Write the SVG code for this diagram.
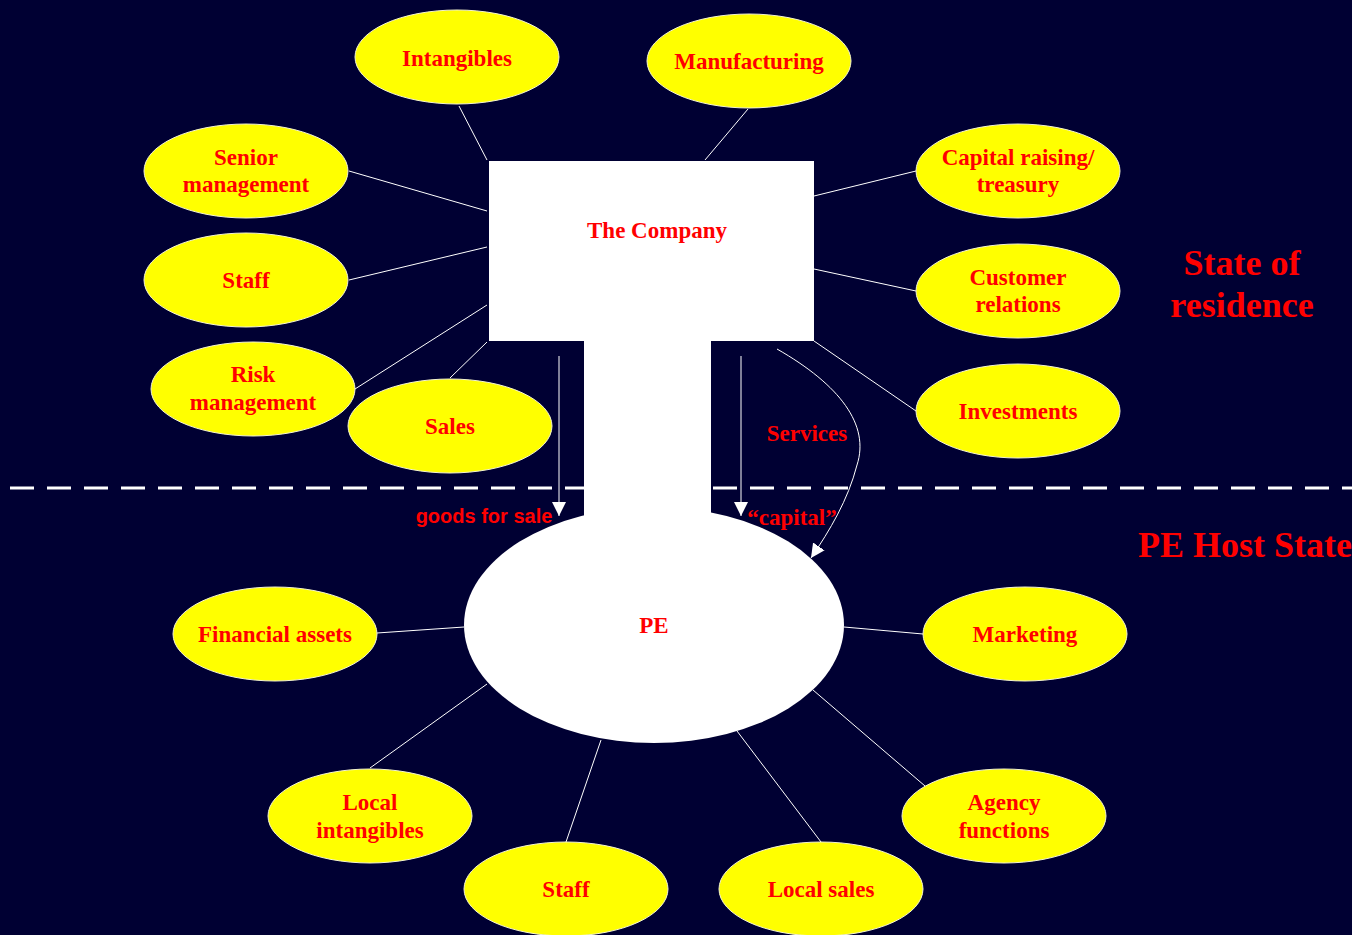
<svg xmlns="http://www.w3.org/2000/svg" width="1352" height="935" viewBox="0 0 1352 935">
<defs>
<style>
.bub{fill:#FFFF00;stroke:#f4f4d0;stroke-width:1}
.t{font-family:"Liberation Serif","Times New Roman",serif;font-weight:bold;font-size:23px;fill:#FF0000;text-anchor:middle}
.big{font-family:"Liberation Serif","Times New Roman",serif;font-weight:bold;font-size:36px;fill:#FF0000;text-anchor:middle}
.conn line,.conn path{stroke:#ffffff;stroke-width:1;fill:none}
.main{fill:#ffffff}
</style>
<marker id="ah" viewBox="0 0 10 10" refX="10" refY="5" markerWidth="14" markerHeight="14" markerUnits="userSpaceOnUse" orient="auto">
<path d="M0,0 L10,5 L0,10 z" fill="#ffffff"/>
</marker>
</defs>
<rect width="1352" height="935" fill="#000033"/>
<line x1="10" y1="488" x2="1352" y2="488" stroke="#ffffff" stroke-width="3" stroke-dasharray="24 13"/>
<g class="conn">
<line x1="459" y1="106" x2="487" y2="160"/>
<line x1="748" y1="109" x2="705" y2="160"/>
<line x1="349" y1="171" x2="487" y2="211"/>
<line x1="349" y1="280" x2="487" y2="247"/>
<line x1="355" y1="389" x2="487" y2="305"/>
<line x1="450" y1="378" x2="487" y2="342"/>
<line x1="916" y1="171" x2="814" y2="196"/>
<line x1="916" y1="291" x2="814" y2="269"/>
<line x1="916" y1="411" x2="814" y2="341"/>
<line x1="377" y1="633" x2="464" y2="627"/>
<line x1="923" y1="634" x2="844" y2="627"/>
<line x1="370" y1="768" x2="487" y2="684"/>
<line x1="925" y1="786" x2="813" y2="690"/>
<line x1="566" y1="842" x2="601" y2="740"/>
<line x1="821" y1="842" x2="737" y2="731"/>
</g>
<g id="company">
<rect class="main" x="489" y="161" width="325" height="180"/>
<rect class="main" x="584" y="340" width="127" height="220"/>
<text class="t" x="657" y="238">The Company</text>
</g>
<g id="pe">
<ellipse class="main" cx="654" cy="625" rx="190" ry="118"/>
<text class="t" x="654" y="633">PE</text>
</g>
<g class="conn" id="flows">
<line x1="559" y1="356" x2="559" y2="516" marker-end="url(#ah)"/>
<line x1="741" y1="356" x2="741" y2="516" marker-end="url(#ah)"/>
<path d="M777,349 C840,385 870,425 857,465 C848,500 830,530 811,558" marker-end="url(#ah)"/>
</g>
<text x="484" y="523" font-family="'Liberation Sans',Arial,sans-serif" font-weight="bold" font-size="20" fill="#FF0000" text-anchor="middle">goods for sale</text>
<text class="t" x="792" y="525">“capital”</text>
<text class="t" x="807" y="441">Services</text>
<g id="n-intangibles"><ellipse class="bub" cx="457" cy="57" rx="102" ry="47"/><text class="t" x="457" y="66">Intangibles</text></g>
<g id="n-manufacturing"><ellipse class="bub" cx="749" cy="61" rx="102" ry="47"/><text class="t" x="749" y="69">Manufacturing</text></g>
<g id="n-senior"><ellipse class="bub" cx="246" cy="171" rx="102" ry="47"/><text class="t" x="246" y="165">Senior</text><text class="t" x="246" y="192">management</text></g>
<g id="n-capital"><ellipse class="bub" cx="1018" cy="171" rx="102" ry="47"/><text class="t" x="1018" y="165">Capital raising/</text><text class="t" x="1018" y="192">treasury</text></g>
<g id="n-staff1"><ellipse class="bub" cx="246" cy="280" rx="102" ry="47"/><text class="t" x="246" y="288">Staff</text></g>
<g id="n-customer"><ellipse class="bub" cx="1018" cy="291" rx="102" ry="47"/><text class="t" x="1018" y="285">Customer</text><text class="t" x="1018" y="312">relations</text></g>
<g id="n-risk"><ellipse class="bub" cx="253" cy="389" rx="102" ry="47"/><text class="t" x="253" y="382">Risk</text><text class="t" x="253" y="410">management</text></g>
<g id="n-sales"><ellipse class="bub" cx="450" cy="426" rx="102" ry="47"/><text class="t" x="450" y="434">Sales</text></g>
<g id="n-investments"><ellipse class="bub" cx="1018" cy="411" rx="102" ry="47"/><text class="t" x="1018" y="419">Investments</text></g>
<g id="n-financial"><ellipse class="bub" cx="275" cy="634" rx="102" ry="47"/><text class="t" x="275" y="642">Financial assets</text></g>
<g id="n-marketing"><ellipse class="bub" cx="1025" cy="634" rx="102" ry="47"/><text class="t" x="1025" y="642">Marketing</text></g>
<g id="n-localint"><ellipse class="bub" cx="370" cy="816" rx="102" ry="47"/><text class="t" x="370" y="810">Local</text><text class="t" x="370" y="838">intangibles</text></g>
<g id="n-agency"><ellipse class="bub" cx="1004" cy="816" rx="102" ry="47"/><text class="t" x="1004" y="810">Agency</text><text class="t" x="1004" y="838">functions</text></g>
<g id="n-staff2"><ellipse class="bub" cx="566" cy="889" rx="102" ry="47"/><text class="t" x="566" y="897">Staff</text></g>
<g id="n-localsales"><ellipse class="bub" cx="821" cy="889" rx="102" ry="47"/><text class="t" x="821" y="897">Local sales</text></g>
<text class="big" x="1242" y="275">State of</text>
<text class="big" x="1242" y="317">residence</text>
<text class="big" x="1245" y="557">PE Host State</text>
</svg>
